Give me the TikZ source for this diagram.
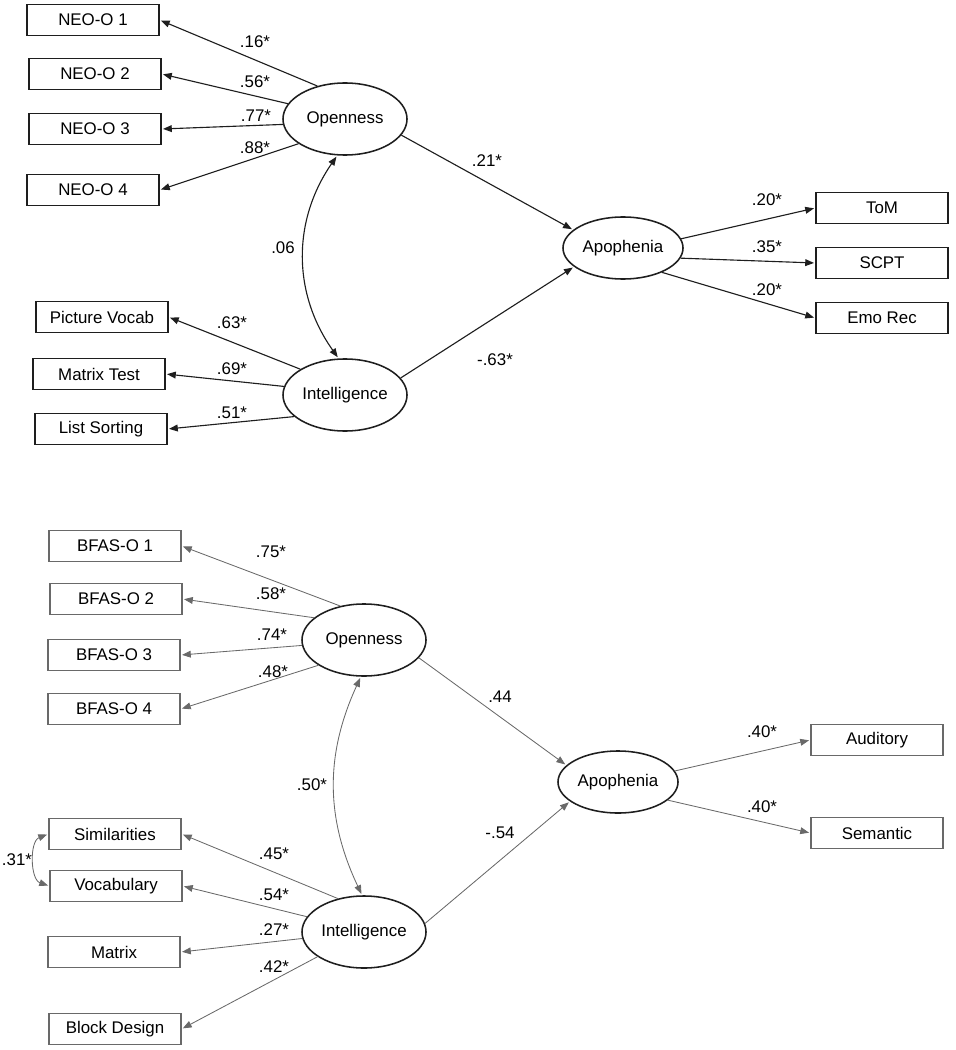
\documentclass[tikz,border=0pt]{standalone}
\usepackage{fontspec}
\setmainfont{Liberation Sans}
\usetikzlibrary{arrows.meta,shapes.geometric}
\definecolor{semDark}{RGB}{30,30,30}
\definecolor{semGray}{RGB}{105,105,105}

\begin{document}
\begin{tikzpicture}[x=0.025cm, y=-0.025cm,
    every node/.style={font=\fontsize{12}{14}\selectfont},
    >={Triangle[length=2.2mm,width=1.7mm]},
    indic/.style={draw=semDark, line width=0.8pt, minimum width=3.3cm, minimum height=0.78cm, inner sep=0pt},
    indicB/.style={indic, draw=semGray},
    latent/.style={draw=semDark, ellipse, line width=1.1pt, minimum width=3.1cm, minimum height=1.8cm, inner sep=0pt},
    coef/.style={inner sep=1pt},
    load/.style={draw=semDark, line width=0.8pt, ->, shorten >=1pt},
    loadB/.style={load, draw=semGray, line width=0.6pt}]
  \useasboundingbox (0,0) rectangle (955,1050);

  % Upper model: latent variables
  \node[latent] (open1) at (345,119) {Openness};
  \node[latent] (intel1) at (345,395) {Intelligence};
  \node[latent, minimum width=3cm, minimum height=1.55cm] (apo1) at (623,248) {Apophenia};

  % Upper model: indicators
  \node[indic] (neo1) at (93,20) {NEO-O 1};
  \node[indic] (neo2) at (95,74) {NEO-O 2};
  \node[indic] (neo3) at (95,129) {NEO-O 3};
  \node[indic] (neo4) at (93,190) {NEO-O 4};
  \node[indic] (pvocab) at (102,317) {Picture Vocab};
  \node[indic] (mtest) at (99,374) {Matrix Test};
  \node[indic] (lsort) at (101,429) {List Sorting};
  \node[indic] (tom) at (882,208) {ToM};
  \node[indic] (scpt) at (882,263) {SCPT};
  \node[indic] (emorec) at (882,318) {Emo Rec};

  % Upper model: paths
  \draw[load] (open1.130) -- (neo1.east);
  \draw[load] (open1.165) -- (neo2.east);
  \draw[load] (open1.185) -- (neo3.east);
  \draw[load] (open1.208) -- (neo4.east);
  \draw[load] (intel1.150) -- (pvocab.east);
  \draw[load] (intel1.172) -- (mtest.east);
  \draw[load] (intel1.203) -- (lsort.east);
  \draw[load] (open1.344) -- (apo1.160);
  \draw[load] (intel1.17) -- (apo1.201);
  \draw[load] (apo1.9) -- (tom.west);
  \draw[load] (apo1.350) -- (scpt.west);
  \draw[load] (apo1.328) -- (emorec.west);
  \draw[load, <->, shorten <=1pt] (open1.258) to[bend right=35] (intel1.100);

  % Upper model: coefficients
  \node[coef] (c16) at (255,42) {.16*};
  \node[coef] (c56) at (255,82) {.56*};
  \node[coef] (c77) at (256,116) {.77*};
  \node[coef] (c88) at (255,148) {.88*};
  \node[coef] (c06) at (283,248) {.06};
  \node[coef] (c21) at (487,161) {.21*};
  \node[coef] (cm63) at (495,360) {-.63*};
  \node[coef] (c63) at (232,323) {.63*};
  \node[coef] (c69) at (232,369) {.69*};
  \node[coef] (c51) at (232,413) {.51*};
  \node[coef] (c20a) at (767,200) {.20*};
  \node[coef] (c35) at (767,247) {.35*};
  \node[coef] (c20b) at (767,290) {.20*};

  % Lower model: latent variables
  \node[latent] (open2) at (364,640) {Openness};
  \node[latent] (intel2) at (364,932) {Intelligence};
  \node[latent, minimum width=3cm, minimum height=1.55cm] (apo2) at (618,782) {Apophenia};

  % Lower model: indicators
  \node[indicB] (bfas1) at (115,546) {BFAS-O 1};
  \node[indicB] (bfas2) at (116,599) {BFAS-O 2};
  \node[indicB] (bfas3) at (114,655) {BFAS-O 3};
  \node[indicB] (bfas4) at (114,709) {BFAS-O 4};
  \node[indicB] (simil) at (115,834) {Similarities};
  \node[indicB] (vocab) at (116,886) {Vocabulary};
  \node[indicB] (matrix) at (114,952) {Matrix};
  \node[indicB] (block) at (115,1029) {Block Design};
  \node[indicB] (audit) at (877,740) {Auditory};
  \node[indicB] (seman) at (877,833) {Semantic};

  % Lower model: paths
  \draw[loadB] (open2.125) -- (bfas1.east);
  \draw[loadB] (open2.156) -- (bfas2.east);
  \draw[loadB] (open2.185) -- (bfas3.east);
  \draw[loadB] (open2.209) -- (bfas4.east);
  \draw[loadB] (intel2.128) -- (simil.east);
  \draw[loadB] (intel2.165) -- (vocab.east);
  \draw[loadB] (intel2.186) -- (matrix.east);
  \draw[loadB] (intel2.208) -- (block.east);
  \draw[loadB] (open2.342) -- (apo2.162);
  \draw[loadB] (intel2.8) -- (apo2.202);
  \draw[loadB] (apo2.11) -- (audit.west);
  \draw[loadB] (apo2.340) -- (seman.west);
  \draw[loadB, <->, shorten <=1pt] (open2.265) to[bend right=25] (intel2.93);
  \draw[loadB, <->, shorten <=1pt] (simil.west) to[bend right=70] (vocab.west);

  % Lower model: coefficients
  \node[coef] (c75) at (271,552) {.75*};
  \node[coef] (c58) at (271,594) {.58*};
  \node[coef] (c74) at (272,635) {.74*};
  \node[coef] (c48) at (273,672) {.48*};
  \node[coef] (c50) at (312,785) {.50*};
  \node[coef] (c44) at (500,697) {.44};
  \node[coef] (cm54) at (500,833) {-.54};
  \node[coef] (c45) at (274,854) {.45*};
  \node[coef] (c54) at (274,895) {.54*};
  \node[coef] (c27) at (274,930) {.27*};
  \node[coef] (c42) at (274,967) {.42*};
  \node[coef] (c31) at (17,860) {.31*};
  \node[coef] (c40a) at (762,732) {.40*};
  \node[coef] (c40b) at (762,807) {.40*};
\end{tikzpicture}
\end{document}
